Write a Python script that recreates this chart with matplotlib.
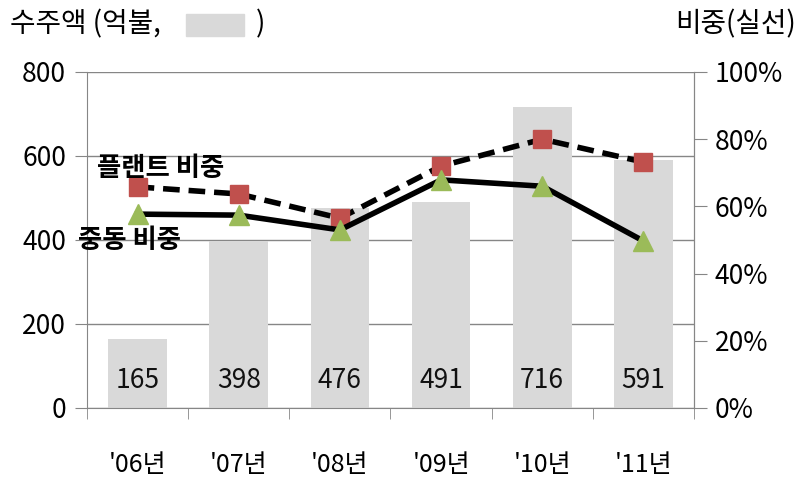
import matplotlib.pyplot as plt
import numpy as np
from matplotlib.patches import Rectangle

plt.rcParams['font.family'] = ['Noto Sans CJK KR', 'DejaVu Sans']

years = ["'06년", "'07년", "'08년", "'09년", "'10년", "'11년"]
orders = [165, 398, 476, 491, 716, 591]
plant_share = [65.8, 63.7, 56.5, 72.0, 80.0, 73.2]
mideast_share = [57.7, 57.4, 53.0, 67.9, 66.0, 49.7]

fig = plt.figure(figsize=(8.06, 4.97), dpi=100)
ax = fig.add_axes([87 / 806, 1 - 408 / 497, (694 - 87) / 806, (408 - 72) / 497])
x = np.arange(len(years))

# 막대 (수주액)
ax.bar(x, orders, width=0.58, color='#d9d9d9', zorder=2)
for xi, v in zip(x, orders):
    ax.text(xi, 65, str(v), ha='center', va='center', fontsize=19, color='#111111', zorder=3)

ax.set_xlim(-0.5, len(years) - 0.5)
ax.set_ylim(0, 800)
ax.set_yticks([0, 200, 400, 600, 800])
ax.yaxis.grid(True, color='#868686', linewidth=1, zorder=0)
ax.set_axisbelow(True)
ax.spines['top'].set_visible(False)
for s in ['left', 'right', 'bottom']:
    ax.spines[s].set_color('#868686')
ax.set_xticks(x)
ax.set_xticklabels(years, fontsize=18)
ax.set_xticks(np.arange(len(years) + 1) - 0.5, minor=True)
ax.tick_params(axis='x', which='major', length=0, pad=32)
ax.tick_params(axis='x', which='minor', length=8, direction='out', color='#868686')
ax.tick_params(axis='y', length=9, color='#868686', labelsize=19, pad=6)

# 비중 (오른쪽 축)
ax2 = ax.twinx()
ax2.set_ylim(0, 100)
ax2.set_yticks([0, 20, 40, 60, 80, 100])
ax2.set_yticklabels([f'{t}%' for t in [0, 20, 40, 60, 80, 100]])
ax2.tick_params(axis='y', length=9, color='#868686', labelsize=19, pad=6)
for s in ['top', 'left', 'bottom']:
    ax2.spines[s].set_visible(False)
ax2.spines['right'].set_color('#868686')

ax2.plot(x, plant_share, color='black', linewidth=4, linestyle=(0, (3, 1.6)),
         marker='s', markersize=13, markerfacecolor='#c0504d', markeredgecolor='#c0504d', zorder=4)
ax2.plot(x, mideast_share, color='black', linewidth=4,
         marker='^', markersize=14, markerfacecolor='#9bbb59', markeredgecolor='#9bbb59', zorder=5)

fig.text(97 / 806, 1 - 168 / 497, '플랜트 비중', fontsize=19, fontweight='bold', va='center')
fig.text(78 / 806, 1 - 240 / 497, '중동 비중', fontsize=19, fontweight='bold', va='center')

# 축 제목
fig.text(10 / 806, 1 - 24 / 497, '수주액 (억불,', fontsize=20, va='center')
fig.text(256 / 806, 1 - 24 / 497, ')', fontsize=20, va='center')
fig.patches.append(Rectangle((186 / 806, 1 - 36 / 497), 58 / 806, 22 / 497,
                             transform=fig.transFigure, color='#d9d9d9'))
fig.text(796 / 806, 1 - 24 / 497, '비중(실선)', fontsize=20, va='center', ha='right')

fig.savefig('out.png', dpi=100)
